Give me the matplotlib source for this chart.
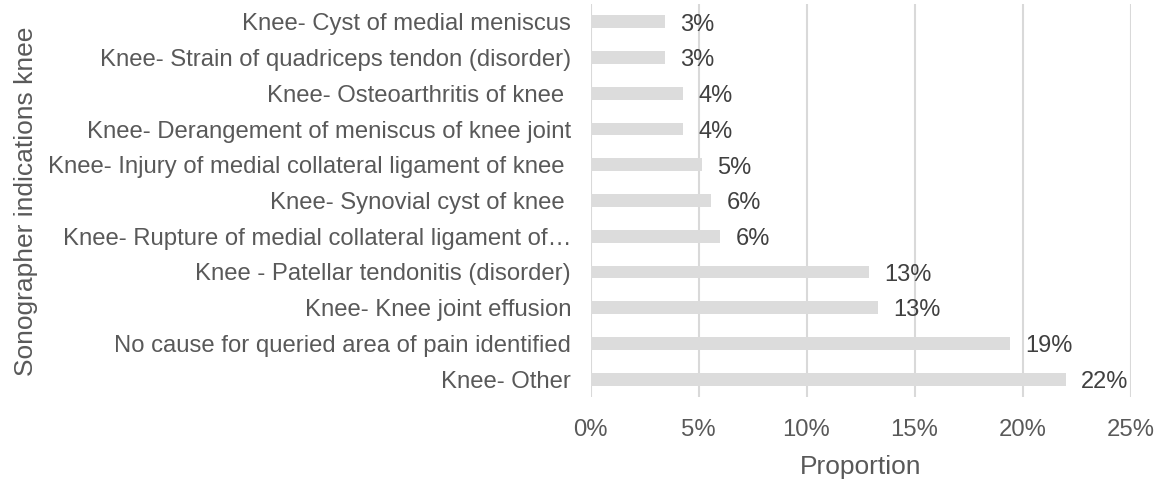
import matplotlib.pyplot as plt
from matplotlib.ticker import FuncFormatter

plt.rcParams['font.family'] = ['Liberation Sans', 'DejaVu Sans']

# categories top to bottom
categories = [
    "Knee- Cyst of medial meniscus",
    "Knee- Strain of quadriceps tendon (disorder)",
    "Knee- Osteoarthritis of knee ",
    "Knee- Derangement of meniscus of knee joint",
    "Knee- Injury of medial collateral ligament of knee ",
    "Knee- Synovial cyst of knee ",
    "Knee- Rupture of medial collateral ligament of\u2026",
    "Knee - Patellar tendonitis (disorder)",
    "Knee- Knee joint effusion",
    "No cause for queried area of pain identified",
    "Knee- Other",
]
# proportions (%)
values = [3.45, 3.45, 4.3, 4.3, 5.15, 5.6, 6.0, 12.9, 13.3, 19.4, 22.0]
value_labels = ["3%", "3%", "4%", "4%", "5%", "6%", "6%", "13%", "13%", "19%", "22%"]
x_ticks = [0, 5, 10, 15, 20, 25]

text_color = "#595959"
grid_color = "#d9d9d9"

fig = plt.figure(figsize=(11.64, 4.79), dpi=100)
ax = fig.add_axes([590.5 / 1164, 1 - 397 / 479, 540 / 1164, 393 / 479])

y = list(range(len(categories)))
ax.barh(y, values, height=0.36, color="#dcdcdc", zorder=2)

for yi, v, lab in zip(y, values, value_labels):
    ax.annotate(lab, (v, yi), xytext=(11, -2), textcoords="offset points",
                ha="left", va="center", fontsize=17, color="#404040")

ax.set_xlim(0, 25)
ax.set_ylim(len(categories) - 0.5, -0.5)
ax.set_xticks(x_ticks)
ax.xaxis.set_major_formatter(FuncFormatter(lambda v, p: f"{v:.0f}%"))
ax.set_yticks(y)
ax.set_yticklabels(categories)
ax.tick_params(axis="both", length=0, labelsize=17.2, labelcolor=text_color)
ax.tick_params(axis="y", pad=14)
ax.tick_params(axis="x", pad=16)
ax.grid(axis="x", color=grid_color, linewidth=1.5, zorder=0)
for s in ax.spines.values():
    s.set_visible(False)

ax.set_xlabel("Proportion", fontsize=19, color=text_color, labelpad=10)
fig.text(26 / 1164, 1 - 201 / 479, "Sonographer indications knee", rotation=90,
         ha="center", va="center", fontsize=19, color=text_color)

fig.savefig("out.png", dpi=100)
